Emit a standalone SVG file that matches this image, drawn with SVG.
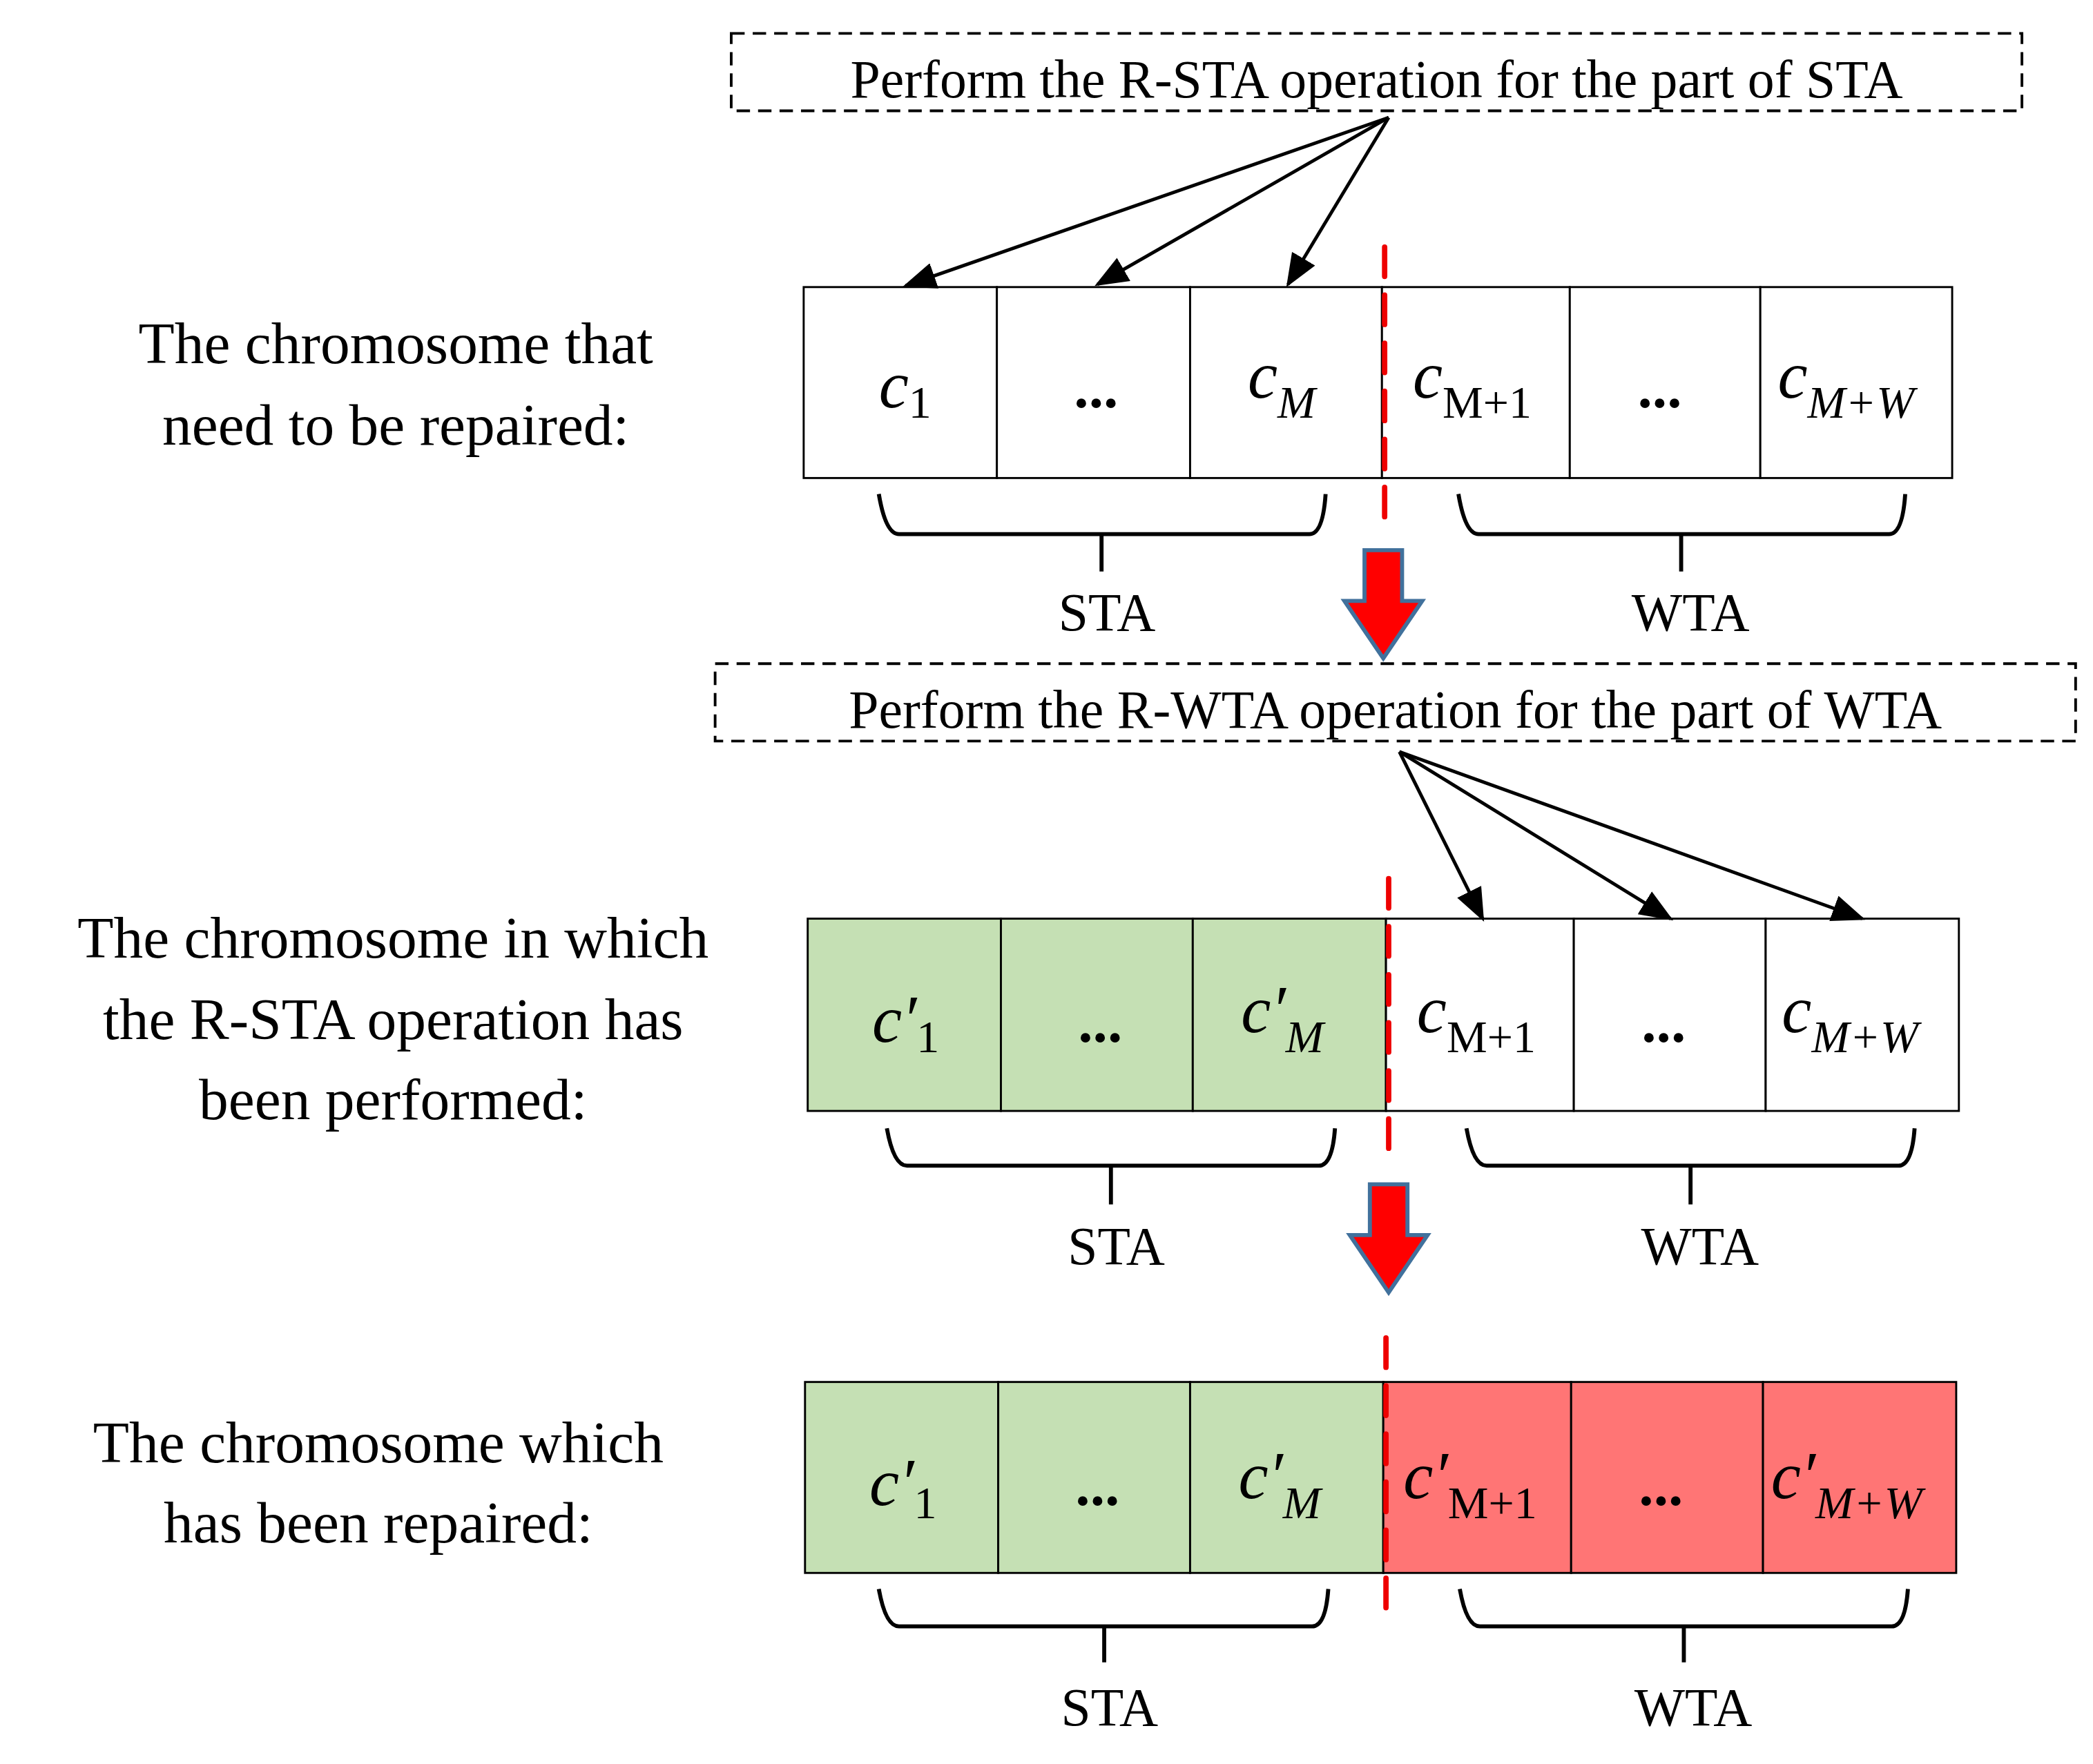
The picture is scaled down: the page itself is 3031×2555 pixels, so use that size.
<svg xmlns="http://www.w3.org/2000/svg" width="3031" height="2555" viewBox="0 0 3031 2555">
<style>
text{font-family:"Liberation Serif","Times New Roman",serif;fill:#000}
.lbl{font-size:44px;text-anchor:middle}
.t{font-size:40px;text-anchor:middle}
.cell{stroke:#000;stroke-width:1.5}
.c{font-size:50px;font-style:italic}
.s{font-size:34px}
.si{font-size:34px;font-style:italic}
.dots{font-size:44px;font-weight:bold;text-anchor:middle}
.brace{fill:none;stroke:#000;stroke-width:3}
.red{stroke:#e00;stroke-width:4;stroke-dasharray:22,14;stroke-linecap:round}
.dash{fill:none;stroke:#000;stroke-width:2;stroke-dasharray:10,6}
.ar{stroke:#000;stroke-width:2.5;marker-end:url(#ah)}
.big{fill:#f00;stroke:#41719c;stroke-width:3}
</style>
<defs><marker id="ah" markerWidth="10" markerHeight="8" refX="9" refY="4" orient="auto" markerUnits="strokeWidth"><path d="M0,0 L10,4 L0,8 Z" fill="#000"/></marker></defs>
<rect width="3031" height="2555" fill="#fff"/>
<g transform="scale(1.943 1.934)">
<g id="box1"><rect class="dash" x="545" y="25" width="962" height="58" fill="#fff"/><text class="t" x="1026" y="73">Perform the R-STA operation for the part of STA</text></g>
<g id="box2"><rect class="dash" x="533" y="497" width="1014" height="58" fill="#fff"/><text class="t" x="1040" y="545">Perform the R-WTA operation for the part of WTA</text></g>
<g id="labels">
<text class="lbl" x="295" y="272">The chromosome that</text><text class="lbl" x="295" y="333">need to be repaired:</text>
<text class="lbl" x="293" y="717">The chromosome in which</text><text class="lbl" x="293" y="778">the R-STA operation has</text><text class="lbl" x="293" y="838">been performed:</text>
<text class="lbl" x="282" y="1095">The chromosome which</text><text class="lbl" x="282" y="1155">has been repaired:</text>
</g>
<g id="row1">
<rect class="cell" x="599" y="215" width="144" height="143" fill="#fff"/><rect class="cell" x="743" y="215" width="144" height="143" fill="#fff"/><rect class="cell" x="887" y="215" width="143" height="143" fill="#fff"/><rect class="cell" x="1030" y="215" width="140" height="143" fill="#fff"/><rect class="cell" x="1170" y="215" width="142" height="143" fill="#fff"/><rect class="cell" x="1312" y="215" width="143" height="143" fill="#fff"/>
<text x="655" y="305"><tspan class="c">c</tspan><tspan class="s" dy="8">1</tspan></text>
<text class="dots" x="817" y="305">...</text>
<text x="930" y="298"><tspan class="c">c</tspan><tspan class="si" dy="15">M</tspan></text>
<text x="1053" y="298"><tspan class="c">c</tspan><tspan class="s" dy="15">M+1</tspan></text>
<text class="dots" x="1237" y="305">...</text>
<text x="1325" y="298"><tspan class="c">c</tspan><tspan class="si" dy="15">M+W</tspan></text>
</g>
<g id="row2">
<rect class="cell" x="602" y="688" width="144" height="144" fill="#c5e0b4"/><rect class="cell" x="746" y="688" width="143" height="144" fill="#c5e0b4"/><rect class="cell" x="889" y="688" width="144" height="144" fill="#c5e0b4"/><rect class="cell" x="1033" y="688" width="140" height="144" fill="#fff"/><rect class="cell" x="1173" y="688" width="143" height="144" fill="#fff"/><rect class="cell" x="1316" y="688" width="144" height="144" fill="#fff"/>
<text x="650" y="780"><tspan class="c">c′</tspan><tspan class="s" dy="8">1</tspan></text>
<text class="dots" x="820" y="780">...</text>
<text x="925" y="773"><tspan class="c">c′</tspan><tspan class="si" dy="15">M</tspan></text>
<text x="1056" y="773"><tspan class="c">c</tspan><tspan class="s" dy="15">M+1</tspan></text>
<text class="dots" x="1240" y="780">...</text>
<text x="1328" y="773"><tspan class="c">c</tspan><tspan class="si" dy="15">M+W</tspan></text>
</g>
<g id="row3">
<rect class="cell" x="600" y="1035" width="144" height="143" fill="#c5e0b4"/><rect class="cell" x="744" y="1035" width="143" height="143" fill="#c5e0b4"/><rect class="cell" x="887" y="1035" width="144" height="143" fill="#c5e0b4"/><rect class="cell" x="1031" y="1035" width="140" height="143" fill="#ff7575"/><rect class="cell" x="1171" y="1035" width="143" height="143" fill="#ff7575"/><rect class="cell" x="1314" y="1035" width="144" height="143" fill="#ff7575"/>
<text x="648" y="1127"><tspan class="c">c′</tspan><tspan class="s" dy="10">1</tspan></text>
<text class="dots" x="818" y="1127">...</text>
<text x="923" y="1122"><tspan class="c">c′</tspan><tspan class="si" dy="15">M</tspan></text>
<text x="1046" y="1122"><tspan class="c">c′</tspan><tspan class="s" dy="15">M+1</tspan></text>
<text class="dots" x="1238" y="1127">...</text>
<text x="1320" y="1122"><tspan class="c">c′</tspan><tspan class="si" dy="15">M+W</tspan></text>
</g>
<g id="braces">
<path class="brace" d="M655,370 Q660,400 670,400 L976,400 Q986,400 988,370 M821,400 V428"/>
<path class="brace" d="M1087,370 Q1092,400 1102,400 L1408,400 Q1418,400 1420,370 M1253,400 V428"/>
<text class="t" x="825" y="472">STA</text><text class="t" x="1260" y="472">WTA</text>
<path class="brace" d="M661,845 Q666,873 676,873 L983,873 Q993,873 995,845 M828,873 V902"/>
<path class="brace" d="M1093,845 Q1098,873 1108,873 L1415,873 Q1425,873 1427,845 M1260,873 V902"/>
<text class="t" x="832" y="947">STA</text><text class="t" x="1267" y="947">WTA</text>
<path class="brace" d="M655,1190 Q660,1218 670,1218 L978,1218 Q988,1218 990,1190 M823,1218 V1245"/>
<path class="brace" d="M1088,1190 Q1093,1218 1103,1218 L1410,1218 Q1420,1218 1422,1190 M1255,1218 V1245"/>
<text class="t" x="827" y="1292">STA</text><text class="t" x="1262" y="1292">WTA</text>
</g>
<g id="connectors">
<line class="red" x1="1032" y1="185" x2="1032" y2="395"/>
<line class="red" x1="1035" y1="658" x2="1035" y2="868"/>
<line class="red" x1="1033" y1="1002" x2="1033" y2="1215"/>
<line class="ar" x1="1035" y1="88" x2="675" y2="214"/>
<line class="ar" x1="1035" y1="88" x2="818" y2="213"/>
<line class="ar" x1="1035" y1="88" x2="960" y2="213"/>
<line class="ar" x1="1043" y1="563" x2="1105" y2="688"/>
<line class="ar" x1="1043" y1="563" x2="1245" y2="688"/>
<line class="ar" x1="1043" y1="563" x2="1388" y2="688"/>
<path class="big" d="M1017,412 H1045 V450 H1060 L1031,493 L1002,450 H1017 Z"/>
<path class="big" d="M1021,887 H1049 V925 H1064 L1035,968 L1006,925 H1021 Z"/>
</g>
</g>
</svg>
